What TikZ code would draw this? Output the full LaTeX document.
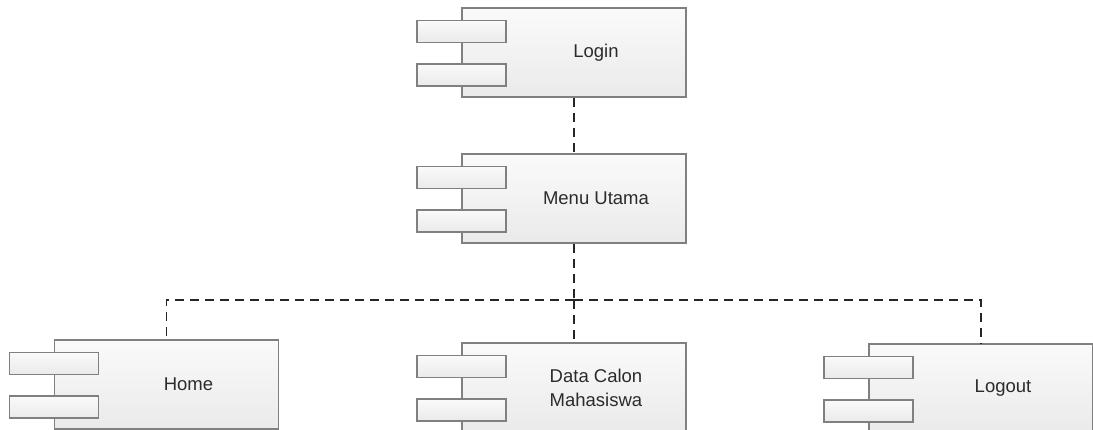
\documentclass[tikz,border=0pt]{standalone}
\usepackage{fontspec}
\setmainfont{Liberation Sans}
\definecolor{bordergray}{HTML}{808080}
\definecolor{linedark}{HTML}{262626}
\definecolor{txt}{HTML}{2B2B2B}
\definecolor{filltop}{HTML}{FAFAFA}
\definecolor{fillbot}{HTML}{EAEAEA}
\tikzset{
  compbox/.style={draw=bordergray, line width=1.1pt, top color=filltop, bottom color=fillbot,
    minimum width=224pt, minimum height=89pt, inner sep=0pt},
  portbox/.style={draw=bordergray, line width=1.1pt, top color=filltop, bottom color=fillbot,
    minimum width=89pt, minimum height=22pt, inner sep=0pt},
  lbl/.style={font=\fontsize{18.5}{24}\selectfont, text=txt, align=left, inner sep=0pt},
  dep/.style={draw=linedark, line width=1.3pt, dash pattern=on 9pt off 6pt}
}
\newcommand\umlcomp[4]{%
  \node[compbox] (#1) at (#2,#3) {};
  \node[portbox, anchor=north west] (#1p1) at ([xshift=-45pt,yshift=-12.5pt]#1.north west) {};
  \node[portbox, anchor=north west] (#1p2) at ([xshift=-45pt,yshift=-56pt]#1.north west) {};
  \node[lbl] (#1t) at ([xshift=22pt]#1.center) {#4};
}
\begin{document}
\begin{tikzpicture}[x=1pt, y=-1pt]
\useasboundingbox (0,0) rectangle (1093,430);
\clip (0,0) rectangle (1093,430);
\umlcomp{login}{574}{52.5}{Login}
\umlcomp{menu}{574}{198.5}{Menu Utama}
\umlcomp{home}{166.5}{384.5}{Home}
\umlcomp{data}{574}{387.5}{Data Calon\\Mahasiswa}
\umlcomp{logout}{981}{388.5}{Logout}
\coordinate (j) at (574,300);
\draw[dep] (login.south) -- (menu.north);
\draw[dep] (menu.south) -- (j);
\draw[dep] (j) -- (data.north);
\draw[dep] (j) -| (home.north);
\draw[dep] (j) -| (logout.north);
\end{tikzpicture}
\end{document}
